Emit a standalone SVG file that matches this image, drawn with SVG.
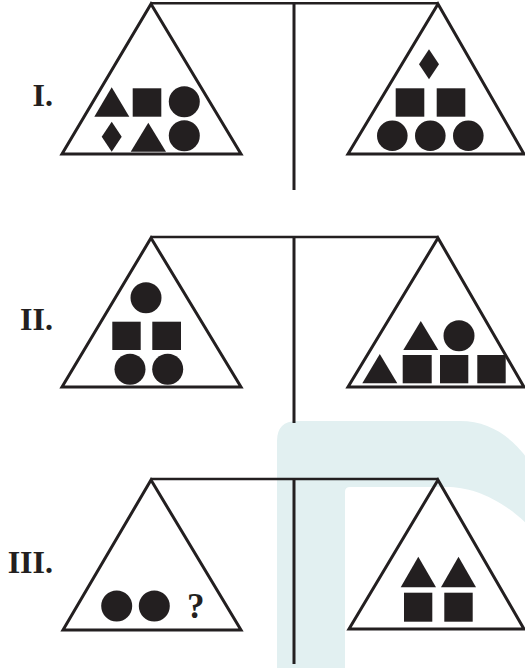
<svg xmlns="http://www.w3.org/2000/svg" width="525" height="668" viewBox="0 0 525 668">
  <style>
    .pan { fill: none; stroke: #231f20; stroke-width: 3; stroke-linejoin: miter; }
    .beam { fill: none; stroke: #231f20; stroke-width: 2.5; }
    .post { fill: none; stroke: #231f20; stroke-width: 3; }
    .s { fill: #231f20; }
    .lbl { font-family: "Liberation Serif", "Times New Roman", serif; font-weight: bold; font-size: 32px; fill: #231f20; text-anchor: end; }
    .q { font-family: "Liberation Serif", "Times New Roman", serif; font-weight: bold; font-size: 35px; fill: #231f20; }
    .wm { fill: #e2f0f1; }
  </style>
  <rect width="525" height="668" fill="#ffffff"/>
  <g id="watermark">
    <path class="wm" d="M277,668 L277,441 Q277,421 297,421 L460,421 C490,421 512,437 530,462 L530,668 Z"/>
    <path fill="#ffffff" d="M345,668 L345,492 Q345,487 350,487 L447,487 C470,487 500,497 530,527 L530,668 Z"/>
  </g>

  <g id="connectors">
    <line class="beam" x1="151" y1="3.2" x2="438" y2="3.2"/>
    <line class="post" x1="294" y1="3" x2="294" y2="190"/>
    <line class="beam" x1="151" y1="237" x2="438" y2="237"/>
    <line class="post" x1="294" y1="237" x2="294" y2="423"/>
    <line class="beam" x1="151" y1="479" x2="438" y2="479"/>
    <line class="post" x1="294" y1="479" x2="294" y2="664"/>
  </g>

  <g id="label-I"><text class="lbl" x="53" y="105.5">I.</text></g>
  <g id="label-II"><text class="lbl" x="53" y="330">II.</text></g>
  <g id="label-III"><text class="lbl" x="53" y="573">III.</text></g>

  <g id="pan-I-left">
    <polygon class="pan" points="151,4 241,154 62,154"/>
    <polygon class="s" points="94.3,116.7 129.3,116.7 111.7,87.3"/>
    <rect class="s" x="132.7" y="88.3" width="28.6" height="28.4"/>
    <circle class="s" cx="184.3" cy="101.7" r="15.5"/>
    <polygon class="s" points="111.7,121.7 121.7,136.7 111.7,151.7 101.7,136.7"/>
    <polygon class="s" points="130.7,151.7 166,151.7 148.3,122.7"/>
    <circle class="s" cx="184.3" cy="135.7" r="15.5"/>
  </g>

  <g id="pan-I-right">
    <polygon class="pan" points="438,4 524,154 348,154"/>
    <polygon class="s" points="429,49.3 439,64.3 429,79.3 419,64.3"/>
    <rect class="s" x="395.7" y="88.3" width="28.6" height="28.4"/>
    <rect class="s" x="436.7" y="88.3" width="28.6" height="28.4"/>
    <circle class="s" cx="392.3" cy="135.7" r="15.3"/>
    <circle class="s" cx="430.3" cy="135.7" r="15.3"/>
    <circle class="s" cx="468.3" cy="135.7" r="15.3"/>
  </g>

  <g id="pan-II-left">
    <polygon class="pan" points="151,238 241,387 62,387"/>
    <circle class="s" cx="146" cy="297.7" r="15.5"/>
    <rect class="s" x="112.3" y="321.7" width="28.4" height="28.3"/>
    <rect class="s" x="152.3" y="321.7" width="28.7" height="28.3"/>
    <circle class="s" cx="130" cy="369.3" r="15.5"/>
    <circle class="s" cx="167.7" cy="369.3" r="15.5"/>
  </g>

  <g id="pan-II-right">
    <polygon class="pan" points="438,238 524,387 348,387"/>
    <polygon class="s" points="403.3,350 438.3,350 420.8,321"/>
    <circle class="s" cx="459" cy="335.7" r="15.5"/>
    <polygon class="s" points="362.3,383.3 397.3,383.3 379.8,354"/>
    <rect class="s" x="402.7" y="355" width="29" height="28.3"/>
    <rect class="s" x="440" y="355" width="28.3" height="28.3"/>
    <rect class="s" x="477.3" y="355" width="28.4" height="28.3"/>
  </g>

  <g id="pan-III-left">
    <polygon class="pan" points="151,480 241,630 63,630"/>
    <circle class="s" cx="116.7" cy="606" r="15.5"/>
    <circle class="s" cx="154.3" cy="606" r="15.5"/>
    <text class="q" x="187" y="618">?</text>
  </g>

  <g id="pan-III-right">
    <polygon class="pan" points="438,480 524,629 349,629"/>
    <polygon class="s" points="400.7,587.3 436,587.3 418.3,556.7"/>
    <polygon class="s" points="441,587.3 476,587.3 458.5,556.7"/>
    <rect class="s" x="404" y="592.7" width="28.3" height="29"/>
    <rect class="s" x="444.3" y="592.7" width="28.4" height="29"/>
  </g>
</svg>
